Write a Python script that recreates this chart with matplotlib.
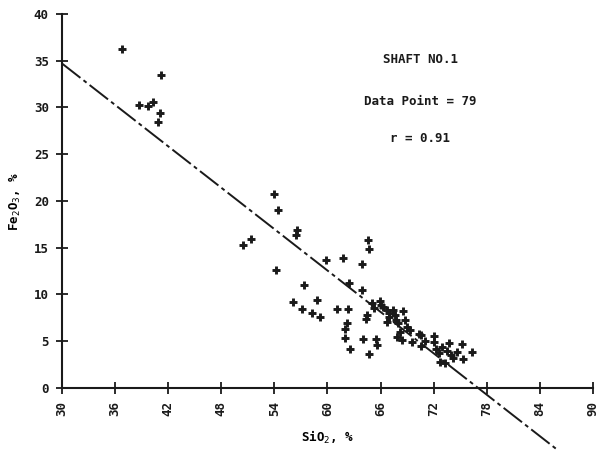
import matplotlib
matplotlib.use("Agg")
import matplotlib.pyplot as plt
import numpy as np

sio2 = [36.75, 41.2, 38.7, 39.7, 40.3, 41.1, 40.8,
        53.9, 54.4, 56.5, 56.4, 51.4, 50.4, 54.2, 57.3, 59.8, 61.8, 63.9, 64.6, 64.7,
        62.4, 63.9, 56.1, 57.1, 58.8, 58.3, 59.1, 61.1, 62.3, 62.2, 62.0, 62.0, 62.5,
        64.5, 64.4, 64.0, 65.5, 65.6, 64.7, 65.0, 65.9, 66.3, 66.7, 66.9, 66.7, 67.4,
        67.6, 67.7, 68.5, 68.75, 68.2, 68.4, 67.8, 69.3, 69.6, 70.3, 70.6, 72.0, 72.0,
        72.6, 72.9, 73.7, 75.2, 74.6, 74.2, 75.3, 76.3, 72.7, 73.3, 70.6,
        67.0, 68.0, 71.0, 73.5, 74.0, 66.0, 69.0, 65.3, 72.3]
fe2o3 = [36.3, 33.5, 30.3, 30.2, 30.6, 29.4, 28.4,
         20.7, 19.0, 16.9, 16.4, 15.9, 15.3, 12.6, 11.0, 13.7, 13.9, 13.3, 15.8, 14.9,
         11.2, 10.5, 9.2, 8.5, 9.4, 8.0, 7.6, 8.45, 8.45, 6.9, 6.3, 5.3, 4.2,
         7.8, 7.4, 5.2, 5.2, 4.6, 3.6, 9.06, 9.3, 8.7, 8.3, 7.6, 7.1, 8.3,
         7.8, 7.3, 8.2, 7.3, 6.0, 5.1, 5.5, 6.2, 4.95, 5.8, 4.5, 5.6, 4.95,
         3.7, 4.4, 4.85, 4.75, 3.9, 3.2, 3.1, 3.8, 2.8, 2.65, 5.7,
         8.0, 7.0, 5.0, 4.0, 3.5, 8.9, 6.5, 8.6, 4.2]

fit_intercept = 34.7   # Fe2O3 at SiO2 = 30
fit_slope = -0.738
fit_x = [30, 86]

xticks = [30, 36, 42, 48, 54, 60, 66, 72, 78, 84, 90]
yticks = [0, 5, 10, 15, 20, 25, 30, 35, 40]

title_lines = ["SHAFT NO.1", "Data Point = 79", "r = 0.91"]

font = "DejaVu Sans Mono"
fig = plt.figure(figsize=(5.98, 4.5), dpi=100)
ax = fig.add_axes([0.1037, 0.1378, 0.8879, 0.8312])

ax.plot(sio2, fe2o3, linestyle="none", marker="+", markersize=6,
        markeredgewidth=2.1, color="#1a1a1a", clip_on=False, zorder=3)

fx = np.array(fit_x, dtype=float)
fy = fit_intercept + fit_slope * (fx - 30)
ax.plot(fx, fy, color="#1a1a1a", linewidth=1.4,
        linestyle=(0, (12, 2, 2, 2)), clip_on=False, zorder=2)

ax.set_xlim(30, 90)
ax.set_ylim(0, 40)
ax.set_xticks(xticks)
ax.set_yticks(yticks)
ax.set_xticklabels([str(t) for t in xticks], rotation=90, fontfamily=font,
                   fontweight="bold", fontsize=9)
ax.set_yticklabels([str(t) for t in yticks], fontfamily=font,
                   fontweight="bold", fontsize=9)
ax.tick_params(direction="inout", length=9, width=1.3, colors="#1a1a1a", pad=5)
for s in ["top", "right"]:
    ax.spines[s].set_visible(False)
for s in ["left", "bottom"]:
    ax.spines[s].set_linewidth(1.5)
    ax.spines[s].set_color("#1a1a1a")

ax.set_xlabel("SiO$_2$, %", fontfamily=font, fontweight="bold", fontsize=9, labelpad=9)
ax.set_ylabel("Fe$_2$O$_3$, %", fontfamily=font, fontweight="bold", fontsize=9, labelpad=8)

for txt, yy in zip(title_lines, [35.1, 30.6, 26.7]):
    ax.text(70.5, yy, txt, ha="center", va="center", fontfamily=font,
            fontweight="bold", fontsize=9, color="#1a1a1a")

fig.savefig("out.png", dpi=100)
